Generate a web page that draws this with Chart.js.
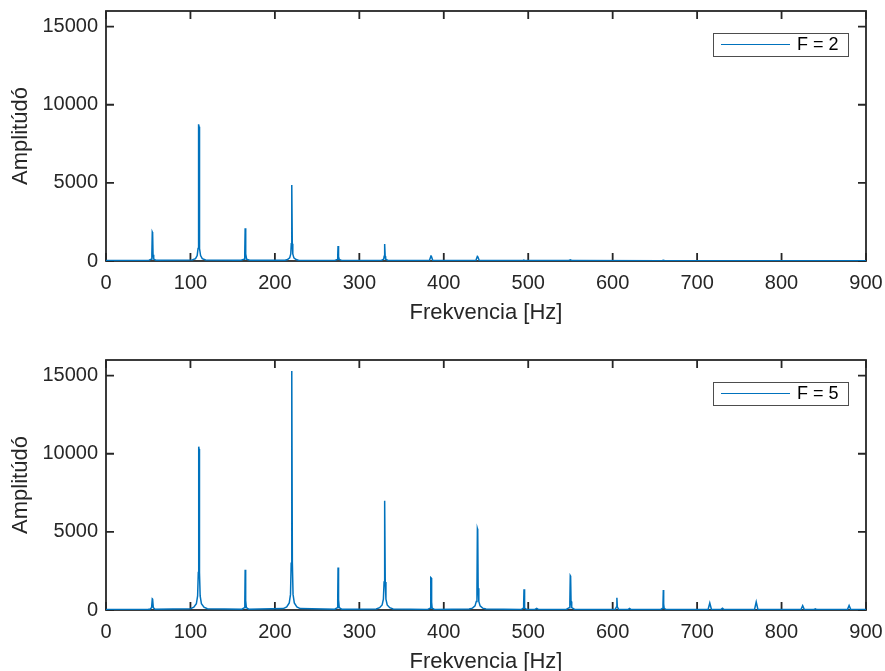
<!DOCTYPE html>
<html>
<head>
<meta charset="utf-8">
<script src="https://cdn.jsdelivr.net/npm/chart.js@4"></script>
<style>
  body { margin: 0; width: 885px; height: 671px; overflow: hidden; background: #fff; position: relative; }
  .panel { position: absolute; left: 0; width: 885px; height: 336px; }
</style>
</head>
<body>
<div class="panel" style="top:0px"><canvas id="chartF2" width="885" height="336"></canvas></div>
<div class="panel" style="top:349px"><canvas id="chartF5" width="885" height="336"></canvas></div>
<script>
// spectrum for F = 2 (frequency in Hz, amplitude)
var freqF2 = [0, 47,
    51, 53.5, 54.3, 54.8, 55.2, 55.7, 56.5, 59,
    102, 106, 108, 109, 109.5, 109.8, 110.2, 110.5, 111, 112, 114, 118,
    160, 163.5, 164.3, 164.8, 165.2, 165.7, 166.5, 170,
    212, 215, 217.5, 218.8, 219.4, 219.8, 220.2, 220.6, 221.2, 222.5, 225, 228,
    271, 273.8, 274.4, 274.8, 275.2, 275.6, 276.2, 279,
    326, 328.8, 329.4, 329.8, 330.2, 330.6, 331.2, 334,
    383, 384.8, 385.2, 387, 438, 439.8, 440.2, 442, 493, 494.8, 495.2, 497,
    548, 549.8, 550.2, 552, 658, 660, 662, 900];
var ampF2 = [40, 40,
    50, 120, 400, 1850, 1800, 400, 120, 50,
    70, 150, 350, 800, 2000, 8750, 8600, 2000, 800, 350, 150, 70,
    45, 120, 450, 2100, 2050, 450, 120, 45,
    45, 90, 200, 450, 1100, 4870, 4800, 1100, 450, 200, 90, 45,
    40, 100, 280, 960, 940, 280, 100, 40,
    40, 110, 300, 1090, 1060, 300, 110, 40,
    30, 320, 310, 30, 30, 300, 290, 30, 25, 60, 55, 25,
    25, 80, 75, 25, 20, 40, 20, 20];

// spectrum for F = 5
var freqF5 = [0, 50,
    52, 54, 54.8, 55.2, 56, 58,
    100, 104, 107, 108.5, 109.3, 109.8, 110.2, 110.7, 111.5, 113, 116, 120,
    161, 163.8, 164.4, 164.8, 165.2, 165.6, 166.2, 169,
    210, 214, 217, 218.5, 219.3, 219.8, 220.2, 220.7, 221.5, 223, 226, 230,
    271, 273.8, 274.4, 274.8, 275.2, 275.6, 276.2, 279,
    320, 324, 327, 328.5, 329.3, 329.8, 330.2, 330.7, 331.5, 333, 336, 340,
    381, 383.8, 384.4, 384.8, 385.2, 385.6, 386.2, 389,
    430, 434, 437, 438.5, 439.3, 439.8, 440.2, 440.7, 441.5, 443, 446, 450,
    492, 494, 494.6, 495, 495.4, 496, 498,
    508, 510, 512,
    545, 548.5, 549.3, 549.8, 550.2, 550.7, 551.5, 555,
    603, 604.5, 605, 605.5, 607,
    618, 620, 622,
    657, 659, 659.6, 660, 660.4, 661, 663,
    713, 715, 717, 728, 730, 732, 768, 770, 772, 823, 825, 827,
    838, 840, 842, 878, 880, 882, 900];
var ampF5 = [40, 45,
    50, 150, 720, 700, 150, 50,
    80, 180, 400, 900, 2400, 10450, 10300, 2400, 900, 400, 180, 80,
    50, 150, 600, 2580, 2540, 600, 150, 50,
    90, 200, 450, 1000, 3000, 15300, 15100, 3000, 1000, 450, 200, 90,
    50, 150, 650, 2720, 2680, 650, 150, 50,
    70, 150, 320, 700, 1800, 7000, 6900, 1800, 700, 320, 150, 70,
    40, 120, 500, 2080, 2050, 500, 120, 40,
    60, 120, 260, 550, 1400, 5200, 5120, 1400, 550, 260, 120, 60,
    40, 120, 400, 1330, 400, 120, 40,
    40, 110, 40,
    40, 150, 550, 2200, 2160, 550, 150, 40,
    40, 200, 780, 200, 40,
    30, 100, 30,
    40, 110, 380, 1280, 380, 110, 40,
    30, 450, 30, 30, 110, 30, 30, 520, 30, 25, 280, 25,
    25, 80, 25, 25, 290, 25, 25];

var xTicks = [0, 100, 200, 300, 400, 500, 600, 700, 800, 900];
var yTicks = [0, 5000, 10000, 15000];
var legendLabels = ['F = 2', 'F = 5'];
var xTitle = 'Frekvencia [Hz]';
var yTitle = 'Amplitúdó';

var lineColor = '#0072BD';
var axisColor = '#262626';
var fontFamily = '"Liberation Sans", Arial, Helvetica, sans-serif';

// axes box with inward ticks on all four sides
var boxPlugin = {
    id: 'matlabBox',
    beforeDatasetsDraw: function(chart) {
        var ctx = chart.ctx;
        var a = chart.chartArea;
        var xs = chart.scales.x;
        var ys = chart.scales.y;
        var len = 8;
        ctx.save();
        ctx.strokeStyle = axisColor;
        ctx.lineWidth = 1.8;
        ctx.strokeRect(a.left, a.top, a.right - a.left, a.bottom - a.top);
        ctx.beginPath();
        xTicks.forEach(function(v) {
            var px = xs.getPixelForValue(v);
            ctx.moveTo(px, a.bottom);
            ctx.lineTo(px, a.bottom - len);
            ctx.moveTo(px, a.top);
            ctx.lineTo(px, a.top + len);
        });
        yTicks.forEach(function(v) {
            var py = ys.getPixelForValue(v);
            ctx.moveTo(a.left, py);
            ctx.lineTo(a.left + len, py);
            ctx.moveTo(a.right, py);
            ctx.lineTo(a.right - len, py);
        });
        ctx.stroke();
        ctx.restore();
    }
};

// legend box in the north-east corner
var legendPlugin = {
    id: 'matlabLegend',
    afterDatasetsDraw: function(chart) {
        var ctx = chart.ctx;
        var a = chart.chartArea;
        var w = 135, h = 23;
        var left = a.right - 18 - w;
        var top = a.top + 22;
        var mid = top + h / 2;
        ctx.save();
        ctx.fillStyle = '#ffffff';
        ctx.fillRect(left, top, w, h);
        ctx.strokeStyle = '#4d4d4d';
        ctx.lineWidth = 1;
        ctx.strokeRect(left + 0.5, top + 0.5, w, h);
        ctx.strokeStyle = lineColor;
        ctx.lineWidth = 1.2;
        ctx.beginPath();
        ctx.moveTo(left + 8, mid);
        ctx.lineTo(left + 77, mid);
        ctx.stroke();
        ctx.fillStyle = '#000000';
        ctx.font = '18px ' + fontFamily;
        ctx.textAlign = 'left';
        ctx.textBaseline = 'middle';
        ctx.fillText(chart.data.datasets[0].label, left + 84, mid + 1);
        ctx.restore();
    }
};

function makeChart(canvasId, freqs, amps, label) {
    var points = freqs.map(function(f, i) {
        return { x: f, y: amps[i] };
    });
    return new Chart(document.getElementById(canvasId).getContext('2d'), {
        type: 'line',
        data: {
            datasets: [{
                label: label,
                data: points,
                borderColor: lineColor,
                borderWidth: 1.5,
                pointRadius: 0,
                fill: false,
                tension: 0
            }]
        },
        options: {
            responsive: false,
            animation: false,
            devicePixelRatio: 1,
            layout: { padding: { top: 11, right: 19, bottom: 0, left: 0 } },
            plugins: {
                legend: { display: false },
                tooltip: { enabled: false }
            },
            scales: {
                x: {
                    type: 'linear',
                    min: 0,
                    max: 900,
                    grid: { display: false, drawTicks: false },
                    border: { display: false },
                    ticks: {
                        color: axisColor,
                        font: { family: fontFamily, size: 20 },
                        padding: 10,
                        maxRotation: 0,
                        autoSkip: false,
                        callback: function(v) { return String(v); }
                    },
                    afterBuildTicks: function(s) {
                        s.ticks = xTicks.map(function(v) { return { value: v }; });
                    },
                    afterFit: function(s) {
                        s.height = 75;
                        s.paddingLeft = 0;
                        s.paddingRight = 0;
                    },
                    title: {
                        display: true,
                        text: xTitle,
                        color: axisColor,
                        font: { family: fontFamily, size: 22 },
                        padding: { top: 0, bottom: 10 }
                    }
                },
                y: {
                    type: 'linear',
                    min: 0,
                    max: 16000,
                    grid: { display: false, drawTicks: false },
                    border: { display: false },
                    ticks: {
                        color: axisColor,
                        font: { family: fontFamily, size: 20 },
                        padding: 8,
                        callback: function(v) { return String(v); }
                    },
                    afterBuildTicks: function(s) {
                        s.ticks = yTicks.map(function(v) { return { value: v }; });
                    },
                    afterFit: function(s) {
                        s.width = 106;
                        s.paddingTop = 0;
                        s.paddingBottom = 0;
                    },
                    title: {
                        display: true,
                        text: yTitle,
                        color: axisColor,
                        font: { family: fontFamily, size: 22 },
                        padding: { top: 8, bottom: 0 }
                    }
                }
            }
        },
        plugins: [boxPlugin, legendPlugin]
    });
}

makeChart('chartF2', freqF2, ampF2, legendLabels[0]);
makeChart('chartF5', freqF5, ampF5, legendLabels[1]);
</script>
</body>
</html>
